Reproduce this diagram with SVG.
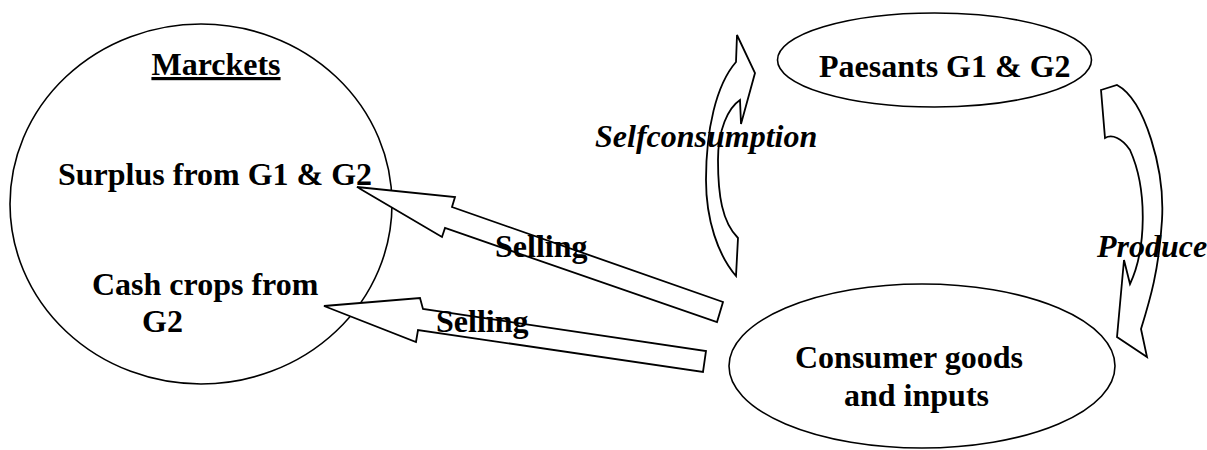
<svg xmlns="http://www.w3.org/2000/svg" width="1207" height="450" viewBox="0 0 1207 450">
<style>
.shape{fill:#fff;stroke:#000;stroke-width:1.8;stroke-linejoin:miter}
.ell{fill:#fff;stroke:#000;stroke-width:1.6}
.t{font-family:"Liberation Serif","Times New Roman",serif;font-weight:bold;font-size:32px;fill:#000}
.i{font-style:italic}
</style>
<rect width="1207" height="450" fill="#fff"/>
<g id="markets">
<ellipse class="ell" cx="201" cy="204" rx="191" ry="180"/>
<text class="t" x="216" y="75" text-anchor="middle" text-decoration="underline">Marckets</text>
<text class="t" x="58" y="185">Surplus from G1 &amp; G2</text>
<text class="t" x="92" y="295">Cash crops from</text>
<text class="t" x="142" y="332">G2</text>
</g>
<g id="peasants">
<ellipse class="ell" cx="934.5" cy="60" rx="157" ry="47"/>
<text class="t" x="819" y="77">Paesants G1 &amp; G2</text>
</g>
<g id="consumer">
<ellipse class="ell" cx="922" cy="366" rx="193" ry="82"/>
<text class="t" x="795" y="368">Consumer goods</text>
<text class="t" x="844" y="406">and inputs</text>
</g>
<g id="connectors">
<polygon class="shape" points="357,187 455,197 452,207 723,302 717,322 445,228 442,237"/>
<polygon class="shape" points="324,306 420,298 423,309 706,351 703,372 418,330 416,342"/>
<path class="shape" d="M737,35 L755,73 L741,124 L740,100 C728,108 718,130 718,160 C718,195 722,222 738,238 L736,276 C718,255 706,220 706,180 C706,130 716,85 736,62 Z"/>
<path class="shape" d="M1101,90 L1117,85 C1145,100 1165,170 1162,220 S1150,300 1141,329 L1147,357 L1117,337 L1124,260 L1130,284 C1146,250 1148,190 1130,150 C1122,138 1112,134 1105,138 Z"/>
<text class="t" x="495" y="257">Selling</text>
<text class="t" x="436" y="332">Selling</text>
<text class="t i" x="595" y="147">Selfconsumption</text>
<text class="t i" x="1097" y="257">Produce</text>
</g>
</svg>
